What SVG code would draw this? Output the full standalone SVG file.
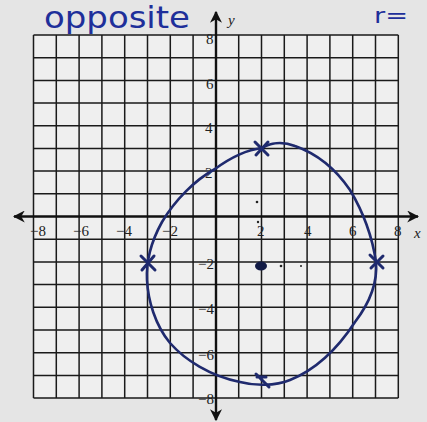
<svg xmlns="http://www.w3.org/2000/svg" width="427" height="422" viewBox="0 0 427 422">
<defs>
<style>
.grid{stroke:#1a1a1a;stroke-width:1.5;fill:none}
.axis{stroke:#111;stroke-width:2.4;fill:none}
.lbl{font-family:"Liberation Serif",serif;font-size:15px;fill:#222}
.pen{stroke:#1f2a6e;stroke-width:2.6;fill:none;stroke-linecap:round;stroke-linejoin:round}
.mark{stroke:#1f2a6e;stroke-width:3;fill:none;stroke-linecap:round}
.hand{font-family:"DejaVu Sans",sans-serif;fill:#1e2f9a}
</style>
<marker id="ah" viewBox="0 0 10 10" refX="9" refY="5" markerWidth="5" markerHeight="5" orient="auto-start-reverse"><path d="M0,0 L10,5 L0,10 L3,5 Z" fill="#111"/></marker>
</defs>
<rect width="427" height="422" fill="#e5e5e5"/>
<rect x="33.5" y="35" width="364.8" height="363" fill="#efefef"/>
<g id="grid">
<path class="grid" d="M33.5,35V398M56.3,35V398M79.1,35V398M101.9,35V398M124.7,35V398M147.5,35V398M170.3,35V398M193.1,35V398M238.7,35V398M261.5,35V398M284.3,35V398M307.1,35V398M329.9,35V398M352.7,35V398M375.5,35V398M398.3,35V398"/>
<path class="grid" d="M33.5,35H398.3M33.5,57.7H398.3M33.5,80.4H398.3M33.5,103.1H398.3M33.5,125.8H398.3M33.5,148.5H398.3M33.5,171.1H398.3M33.5,193.8H398.3M33.5,239.2H398.3M33.5,261.9H398.3M33.5,284.6H398.3M33.5,307.3H398.3M33.5,330H398.3M33.5,352.7H398.3M33.5,375.4H398.3M33.5,398H398.3"/>
</g>
<g id="axes">
<line class="axis" x1="14" y1="216.5" x2="418" y2="216.5" marker-start="url(#ah)" marker-end="url(#ah)"/>
<line class="axis" x1="216" y1="12" x2="216" y2="420" marker-start="url(#ah)" marker-end="url(#ah)"/>
</g>
<g id="labels">
<text class="lbl" x="206" y="44">8</text>
<text class="lbl" x="206" y="89">6</text>
<text class="lbl" x="205" y="133">4</text>
<text class="lbl" x="205" y="178">2</text>
<text class="lbl" x="198" y="269">−2</text>
<text class="lbl" x="198" y="314">−4</text>
<text class="lbl" x="198" y="360">−6</text>
<text class="lbl" x="198" y="404">−8</text>
<text class="lbl" x="30" y="236">−8</text>
<text class="lbl" x="73" y="236">−6</text>
<text class="lbl" x="116" y="236">−4</text>
<text class="lbl" x="162" y="236">−2</text>
<text class="lbl" x="257" y="236">2</text>
<text class="lbl" x="304" y="236">4</text>
<text class="lbl" x="349" y="236">6</text>
<text class="lbl" x="394" y="236">8</text>
<text class="lbl" x="414" y="238" font-style="italic" font-size="17">x</text>
<text class="lbl" x="228" y="25" font-style="italic" font-size="17">y</text>
</g>
<g id="handwriting">
<text class="hand" x="44" y="28" font-size="30" textLength="146" lengthAdjust="spacingAndGlyphs">opposite</text>
<text class="hand" x="374" y="23" font-size="22" textLength="34" lengthAdjust="spacingAndGlyphs">r=</text>
</g>
<g id="circle">
<path class="pen" d="M262,148 C270,143 282,141 295,146 C315,153 335,168 350,190 C362,210 372,235 376,262 C378,285 368,305 355,322 C340,345 320,368 290,380 C275,386 255,386 240,382 C210,376 185,360 170,343 C155,325 148,300 147,280 C146,260 152,240 162,222 C175,200 195,180 215,169 C230,158 245,150 262,148 Z"/>
<path class="mark" d="M255,142 L268,155 M268,142 L256,155"/>
<path class="mark" d="M370,255 L383,268 M383,256 L371,268"/>
<path class="mark" d="M256,374 L269,387 M257,377 L266,377"/>
<path class="mark" d="M141,256 L155,270 M154,256 L142,270"/>
<ellipse cx="261" cy="266" rx="6" ry="4.5" fill="#111a44"/>
<circle cx="257" cy="202" r="1.3" fill="#222"/>
<circle cx="258" cy="222" r="1.2" fill="#222"/>
<circle cx="281" cy="266" r="1.3" fill="#222"/>
<circle cx="301" cy="266" r="1" fill="#222"/>
</g>
</svg>
